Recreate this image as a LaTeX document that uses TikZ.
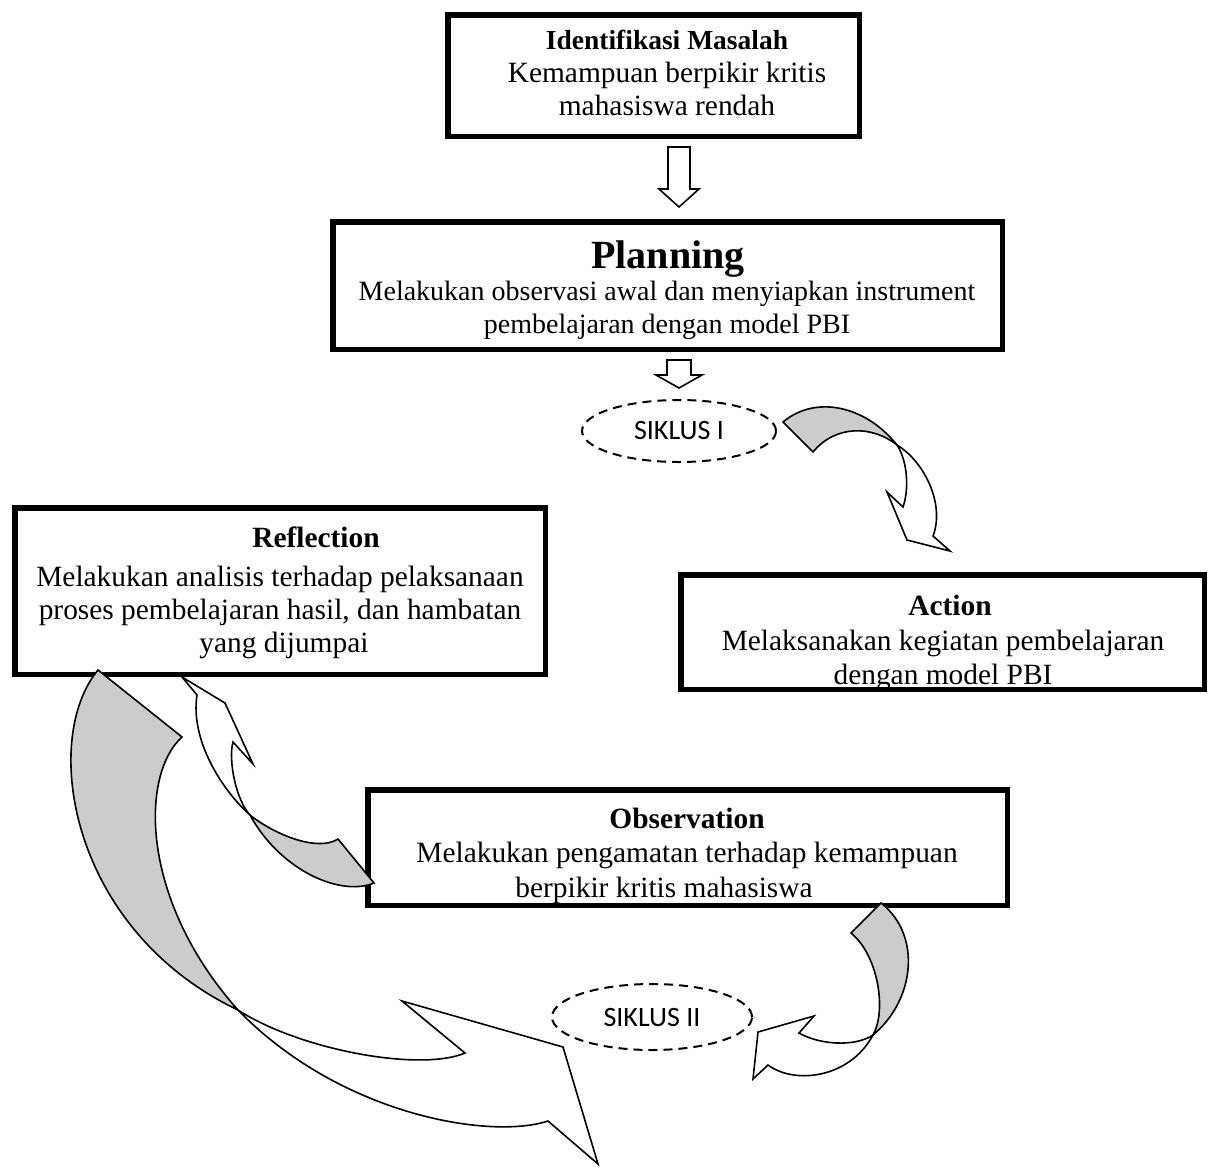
\documentclass[tikz,border=0pt]{standalone}
\usepackage{fontspec}
\setmainfont{Liberation Serif}
\newfontfamily\siklusfont{Carlito}
\usepackage{xcolor}
\usepackage{tikz}
\usetikzlibrary{shapes.geometric}
\usetikzlibrary{calc}
\definecolor{bandgray}{RGB}{204,204,204}

\begin{document}
\begin{tikzpicture}[x=1pt, y=-1pt,
	box/.style={draw, line width=5.5pt, fill=white, inner sep=0pt},
	txt/.style={inner sep=0pt, anchor=base, font=\fontsize{29.4}{33}\selectfont},
	ttl/.style={inner sep=0pt, anchor=base, font=\fontsize{29.4}{33}\selectfont\bfseries},
	siklus/.style={ellipse, draw, line width=2pt, dash pattern=on 9pt off 6pt, inner sep=0pt, font=\siklusfont\fontsize{28}{30}\selectfont},
	band/.style={draw, line width=1.6pt, line join=miter},
	blockarrow/.style={draw, line width=1.6pt, fill=white}]
	\useasboundingbox (0,0) rectangle (1209,1171);

	\node[box, minimum width=411.5, minimum height=121.5] (ident) at (653.5,75.5) {};
	\node[ttl, font=\fontsize{27.5}{33}\selectfont\bfseries] (identl1) at (667,49) {Identifikasi Masalah};
	\node[txt] (identl2) at (667,82) {Kemampuan berpikir kritis};
	\node[txt] (identl3) at (667,115) {mahasiswa rendah};

	\node[box, minimum width=669.5, minimum height=127.5] (plan) at (667.5,285.5) {};
	\node[inner sep=0pt, anchor=base, font=\fontsize{40}{44}\selectfont\bfseries] (planl1) at (668,268) {Planning};
	\node[txt, font=\fontsize{28}{33}\selectfont] (planl2) at (667,300) {Melakukan observasi awal dan menyiapkan instrument};
	\node[txt, font=\fontsize{28}{33}\selectfont] (planl3) at (667,333) {pembelajaran dengan model PBI};

	\node[box, minimum width=530.5, minimum height=166.5] (refl) at (280,591) {};
	\node[ttl] (refll1) at (316,547) {Reflection};
	\node[txt] (refll2) at (280,586) {Melakukan analisis terhadap pelaksanaan};
	\node[txt] (refll3) at (280,619) {proses pembelajaran hasil, dan hambatan};
	\node[txt] (refll4) at (284,652) {yang dijumpai};

	\node[box, minimum width=523.5, minimum height=114.5] (act) at (942.5,632) {};
	\begin{scope}
		\clip ($(act.south west)+(2.75,-2.75)$) rectangle ($(act.north east)+(-2.75,2.75)$);
		\node[ttl] (actl1) at (950,615) {Action};
		\node[txt] (actl2) at (943,650) {Melaksanakan kegiatan pembelajaran};
		\node[txt] (actl3) at (943,684) {dengan model PBI};
	\end{scope}

	\node[box, minimum width=639.5, minimum height=115.5] (obs) at (687.5,847.5) {};
	\begin{scope}
		\clip ($(obs.south west)+(2.75,-2.75)$) rectangle ($(obs.north east)+(-2.75,2.75)$);
		\node[ttl] (obsl1) at (687,828) {Observation};
		\node[txt] (obsl2) at (687,862) {Melakukan pengamatan terhadap kemampuan};
		\node[txt] (obsl3) at (664,897) {berpikir kritis mahasiswa};
	\end{scope}

	\draw[blockarrow] (668,147) -- (690,147) -- (690,189) -- (699,189) -- (679,207) -- (659,189) -- (668,189) -- cycle;
	\draw[blockarrow] (667,360) -- (691,360) -- (691,375) -- (702,375) -- (679,388) -- (656,375) -- (667,375) -- cycle;

	\draw[band, fill=bandgray] (783,422) .. controls (815,395) and (865,405) .. (897,445) .. controls (872,425) and (835,425) .. (813,452) -- cycle;
	\draw[band, fill=white] (897,445) .. controls (925,462) and (945,505) .. (933,536) -- (950,551) -- (907,540) -- (887,492) -- (903,507) .. controls (909,490) and (908,462) .. (897,445) -- cycle;

	\draw[band, fill=bandgray] (374,883) .. controls (340,897) and (280,870) .. (250,815) .. controls (275,835) and (318,852) .. (338,839) -- cycle;
	\draw[band, fill=white] (250,815) .. controls (222,790) and (190,740) .. (197,695) -- (182,677) -- (225,703) -- (253,764) -- (233,742) .. controls (228,760) and (236,800) .. (250,815) -- cycle;

	\draw[band, fill=bandgray] (98,670) .. controls (40,740) and (70,930) .. (238,1010) .. controls (140,900) and (140,775) .. (182,737) -- cycle;
	\draw[band, fill=white] (238,1010) .. controls (300,1050) and (420,1072) .. (465,1053) -- (402,1001) -- (563,1047) -- (598,1164) -- (548,1121) .. controls (490,1140) and (340,1115) .. (238,1010) -- cycle;

	\draw[band, fill=bandgray] (881,903) .. controls (922,935) and (915,1000) .. (873,1035) .. controls (887,1010) and (878,955) .. (851,933) -- cycle;
	\draw[band, fill=white] (873,1035) .. controls (855,1047) and (820,1045) .. (799,1033) -- (814,1016) -- (758,1032) -- (753,1079) -- (768,1065) .. controls (795,1085) and (850,1078) .. (873,1035) -- cycle;

	\node[siklus, minimum width=194, minimum height=62] (sik1) at (679,431) {SIKLUS I};
	\node[siklus, minimum width=200, minimum height=66] (sik2) at (652,1017) {SIKLUS II};
\end{tikzpicture}
\end{document}
